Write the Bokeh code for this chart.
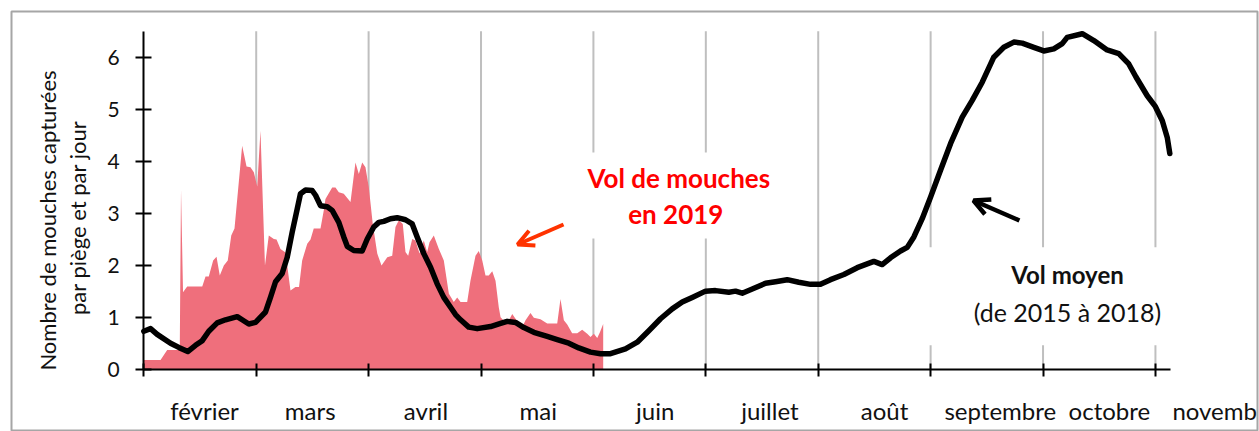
from bokeh.plotting import figure
from bokeh.models import Range1d, LinearAxis, FixedTicker, Arrow, OpenHead
from bokeh.core.properties import value
from bokeh.embed import file_html
from bokeh.resources import INLINE

# ---------------- data (x in months since 1 February) ----------------
month_names = ["février", "mars", "avril", "mai", "juin", "juillet", "août",
               "septembre", "octobre", "novembre"]
month_label_pos = [0.54, 1.48, 2.51, 3.51, 4.55, 5.57, 6.59, 7.62, 8.59, 9.62]
month_bounds = [0, 1, 2, 3, 4, 5, 6, 7, 8, 9]
grid_months = [1, 2, 3, 4, 5, 6, 7, 8, 9]
y_ticks = [0, 1, 2, 3, 4, 5, 6]
Y_MAX = 6.5
X_END = 9.13

# Vol moyen (de 2015 à 2018)
mean_x = [0.000, 0.060, 0.119, 0.238, 0.311, 0.391, 0.460, 0.520, 0.578, 0.653,
          0.727, 0.831, 0.875, 0.934, 0.994, 1.083, 1.127, 1.172, 1.231, 1.276,
          1.320, 1.365, 1.394, 1.439, 1.498, 1.528, 1.572, 1.632, 1.676, 1.735,
          1.779, 1.810, 1.868, 1.943, 1.988, 2.046, 2.091, 2.135, 2.195, 2.254,
          2.328, 2.388, 2.432, 2.491, 2.551, 2.610, 2.669, 2.729, 2.773, 2.818,
          2.891, 2.966, 3.085, 3.174, 3.233, 3.307, 3.381, 3.470, 3.589, 3.678,
          3.781, 3.870, 3.974, 4.063, 4.152, 4.285, 4.390, 4.493, 4.597, 4.701,
          4.790, 4.879, 4.997, 5.086, 5.205, 5.264, 5.324, 5.413, 5.531, 5.620,
          5.724, 5.827, 5.932, 6.020, 6.109, 6.228, 6.347, 6.495, 6.569, 6.643,
          6.732, 6.792, 6.851, 6.925, 6.999, 7.088, 7.177, 7.281, 7.370, 7.459,
          7.562, 7.651, 7.740, 7.815, 7.918, 8.007, 8.096, 8.171, 8.215, 8.349,
          8.452, 8.570, 8.674, 8.763, 8.827, 8.927, 9.000, 9.061, 9.105, 9.128]
mean_y = [0.74, 0.79, 0.68, 0.51, 0.43, 0.35, 0.47, 0.56, 0.74, 0.90,
          0.96, 1.02, 0.96, 0.88, 0.91, 1.11, 1.39, 1.69, 1.85, 2.16,
          2.64, 3.09, 3.38, 3.45, 3.44, 3.35, 3.15, 3.13, 3.06, 2.83,
          2.55, 2.37, 2.29, 2.28, 2.51, 2.74, 2.83, 2.85, 2.90, 2.92,
          2.88, 2.80, 2.55, 2.23, 1.97, 1.65, 1.39, 1.20, 1.06, 0.96,
          0.82, 0.79, 0.83, 0.89, 0.93, 0.91, 0.81, 0.72, 0.64, 0.58,
          0.51, 0.42, 0.34, 0.31, 0.31, 0.40, 0.53, 0.75, 0.98, 1.17,
          1.30, 1.39, 1.51, 1.52, 1.49, 1.51, 1.47, 1.55, 1.66, 1.69,
          1.73, 1.68, 1.64, 1.64, 1.73, 1.83, 1.96, 2.08, 2.02, 2.15,
          2.28, 2.35, 2.55, 2.90, 3.31, 3.83, 4.34, 4.85, 5.17, 5.52,
          6.00, 6.19, 6.29, 6.27, 6.19, 6.12, 6.16, 6.26, 6.38, 6.45,
          6.32, 6.14, 6.07, 5.87, 5.62, 5.26, 5.05, 4.78, 4.46, 4.15]

# Vol de mouches en 2019
fly2019_x = [0.000, 0.149, 0.208, 0.320, 0.331, 0.349, 0.386, 0.520, 0.549, 0.578,
             0.617, 0.647, 0.676, 0.712, 0.747, 0.778, 0.807, 0.875, 0.914, 0.949,
             0.979, 1.009, 1.038, 1.078, 1.112, 1.157, 1.181, 1.216, 1.261, 1.305,
             1.349, 1.381, 1.409, 1.454, 1.483, 1.512, 1.572, 1.601, 1.616, 1.676,
             1.705, 1.735, 1.779, 1.839, 1.883, 1.913, 1.943, 1.972, 2.002, 2.037,
             2.077, 2.115, 2.166, 2.210, 2.239, 2.269, 2.304, 2.328, 2.352, 2.388,
             2.417, 2.453, 2.491, 2.521, 2.542, 2.580, 2.625, 2.669, 2.714, 2.758,
             2.788, 2.818, 2.877, 2.906, 2.951, 2.980, 3.011, 3.040, 3.069, 3.100,
             3.129, 3.158, 3.174, 3.218, 3.248, 3.278, 3.307, 3.367, 3.396, 3.440,
             3.470, 3.529, 3.589, 3.678, 3.707, 3.737, 3.767, 3.811, 3.856, 3.900,
             3.945, 3.974, 4.004, 4.034, 4.058, 4.087]
fly2019_y = [0.19, 0.19, 0.38, 0.38, 3.47, 1.49, 1.60, 1.60, 1.79, 1.79,
             2.10, 2.17, 1.81, 2.00, 2.10, 2.58, 2.71, 4.30, 3.90, 3.89,
             3.79, 3.52, 4.59, 2.00, 2.58, 2.51, 2.50, 2.32, 2.25, 1.52,
             1.59, 1.59, 2.10, 2.42, 2.50, 2.71, 2.71, 3.06, 3.28, 3.50,
             3.50, 3.41, 3.38, 3.22, 3.98, 3.76, 3.98, 3.89, 3.50, 2.80,
             2.23, 2.00, 2.16, 2.19, 2.74, 2.87, 2.80, 2.26, 2.19, 2.51,
             2.48, 2.23, 2.48, 2.26, 2.45, 2.58, 2.32, 2.10, 1.46, 1.30,
             1.39, 1.30, 1.30, 1.71, 2.19, 2.28, 2.10, 1.81, 1.81, 1.89,
             1.71, 1.20, 1.01, 0.91, 0.95, 1.07, 0.98, 0.82, 0.95, 1.09,
             1.00, 0.97, 0.89, 0.89, 1.36, 0.95, 0.87, 0.70, 0.70, 0.77,
             0.69, 0.63, 0.69, 0.61, 0.72, 0.88]

# ---------------- figure ----------------
FONT = "Lato"
TXT = "#111111"
p = figure(width=1259, height=431, output_backend="svg", toolbar_location=None,
           x_range=Range1d(-1.177, 9.908), y_range=Range1d(-1.184, 6.877),
           x_axis_location=None, y_axis_location=None,
           min_border_left=11, min_border_right=2, min_border_top=11, min_border_bottom=0)
p.outline_line_color = "#A6A6A6"
p.outline_line_width = 2
p.background_fill_color = "white"
p.border_fill_color = "white"
for g in p.grid:
    g.visible = False

# vertical month grid lines
p.segment(x0=grid_months, x1=grid_months, y0=[0] * len(grid_months),
          y1=[Y_MAX] * len(grid_months), line_color="#BFBFBF", line_width=2,
          level="underlay")
# white backgrounds behind the two text blocks
p.quad(left=[3.815, 6.893], right=[5.754, 9.152], top=[4.17, 2.35],
       bottom=[2.52, 0.47], fill_color="white", line_color=None, level="underlay")

# 2019 area
p.varea(x=fly2019_x, y1=[0] * len(fly2019_x), y2=fly2019_y, fill_color="#EF6F7C")
# mean line
p.line(mean_x, mean_y, line_color="black", line_width=5.5, line_join="round",
       line_cap="round")

# axes
yax = LinearAxis(ticker=FixedTicker(ticks=y_ticks), fixed_location=0, bounds=(0, Y_MAX))
yax.axis_line_width = 2
yax.axis_line_color = "black"
yax.major_tick_line_width = 2
yax.major_tick_in = 8
yax.major_tick_out = 8
yax.minor_tick_line_color = None
yax.major_label_text_font = FONT
yax.major_label_text_font_size = "21px"
yax.major_label_text_color = TXT
yax.major_label_standoff = 16
p.add_layout(yax, "left")

xax = LinearAxis(ticker=FixedTicker(ticks=month_bounds), fixed_location=0, bounds=(0, X_END))
xax.axis_line_width = 2
xax.axis_line_color = "black"
xax.major_tick_line_width = 2
xax.major_tick_in = 6
xax.major_tick_out = 7
xax.minor_tick_line_color = None
xax.major_label_text_font_size = "0px"
xax.major_label_text_color = None
p.add_layout(xax, "below")

# month names, centred in each month
p.text(x=month_label_pos, y=[-0.78] * len(month_label_pos), text=month_names,
       text_align="center", text_baseline="middle", text_font=value(FONT),
       text_font_size="24px", text_color=TXT)

# y-axis title (two lines, rotated)
p.text(x=[-0.857], y=[2.866], text=["Nombre de mouches capturées"], angle=1.5708,
       text_align="center", text_baseline="middle", text_font=value(FONT),
       text_font_size="22px", text_color=TXT)
p.text(x=[-0.590], y=[2.92], text=["par piège et par jour"], angle=1.5708,
       text_align="center", text_baseline="middle", text_font=value(FONT),
       text_font_size="22px", text_color=TXT)

# annotations
p.text(x=[4.760, 4.733], y=[3.68, 3.0], text=["Vol de mouches", "en 2019"],
       text_align="center", text_baseline="middle", text_font=value(FONT),
       text_font_style="bold", text_font_size="26px", text_color="#FF0000")
p.text(x=[8.218], y=[1.83], text=["Vol moyen"], text_align="center",
       text_baseline="middle", text_font=value(FONT), text_font_style="bold",
       text_font_size="24px", text_color=TXT)
p.text(x=[8.218], y=[1.10], text=["(de 2015 à 2018)"], text_align="center",
       text_baseline="middle", text_font=value(FONT), text_font_size="25px",
       text_color=TXT)

p.add_layout(Arrow(end=OpenHead(size=16, line_color="#FF3300", line_width=4),
                   x_start=3.734, y_start=2.789, x_end=3.325, y_end=2.405,
                   line_color="#FF3300", line_width=4))
p.add_layout(Arrow(end=OpenHead(size=16, line_color="black", line_width=4.5),
                   x_start=7.790, y_start=2.866, x_end=7.381, y_end=3.250,
                   line_color="black", line_width=4.5))

open("out.html", "w").write(file_html(p, INLINE))
